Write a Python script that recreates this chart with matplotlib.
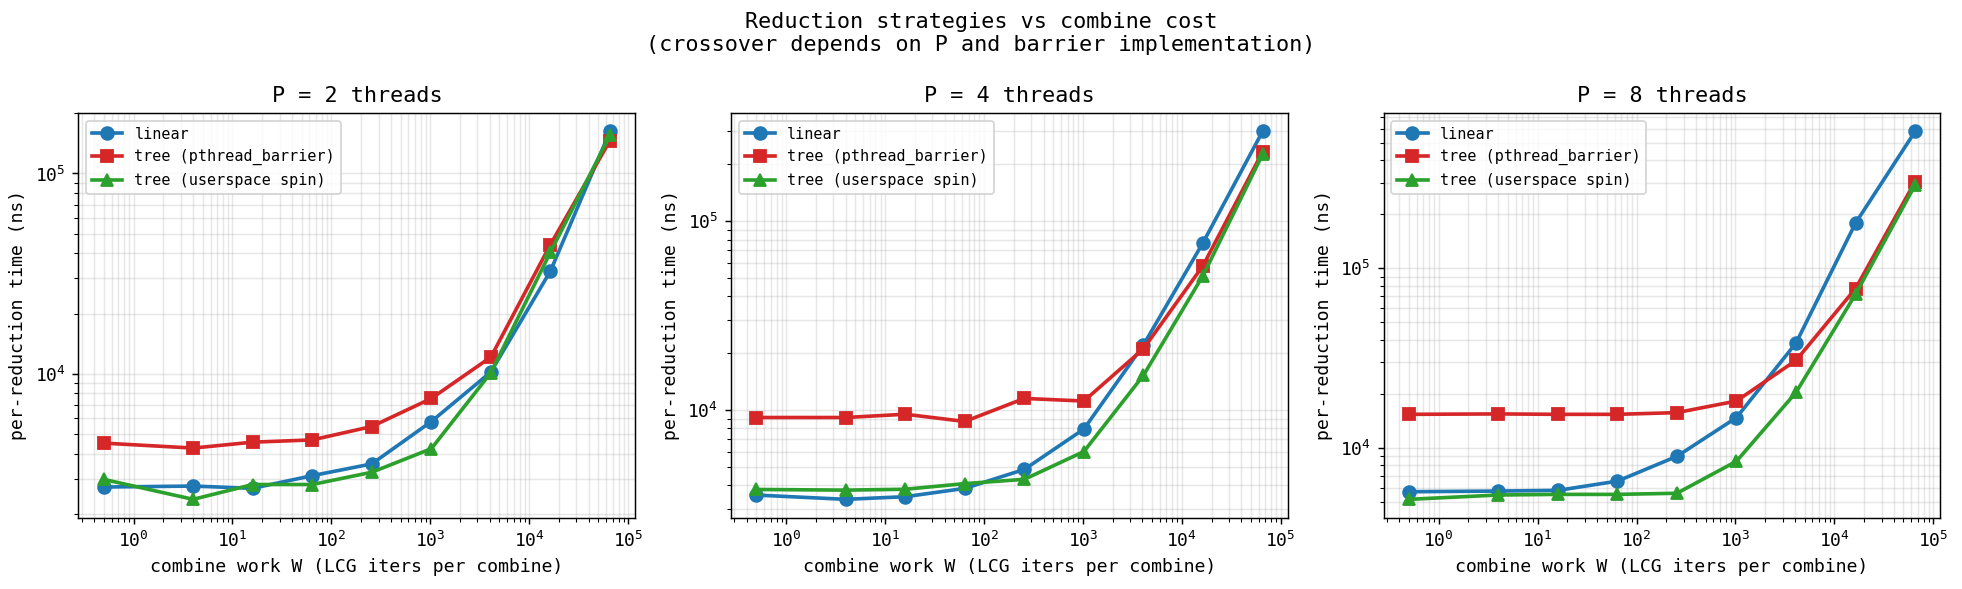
import matplotlib
matplotlib.use("Agg")
import matplotlib.pyplot as plt

plt.rcParams['font.family'] = ['DejaVu Sans Mono']

W = [0.5, 4, 16, 64, 256, 1024, 4096, 16384, 65536]
threads = [2, 4, 8]

linear = {
    2: [2730, 2760, 2690, 3110, 3560, 5790, 10230, 32600, 162000],
    4: [3540, 3360, 3470, 3840, 4840, 7920, 22100, 76900, 299000],
    8: [5710, 5760, 5810, 6540, 8990, 14770, 38400, 178700, 578000],
}
tree_pthread = {
    2: [4520, 4270, 4570, 4690, 5470, 7550, 12140, 44200, 146000],
    4: [9120, 9120, 9490, 8690, 11510, 11150, 21100, 58100, 233000],
    8: [15400, 15480, 15400, 15400, 15740, 18260, 30760, 77200, 303800],
}
tree_spin = {
    2: [2980, 2370, 2810, 2810, 3235, 4240, 10150, 40500, 155000],
    4: [3790, 3760, 3800, 4070, 4290, 6020, 15260, 51500, 226000],
    8: [5180, 5475, 5520, 5520, 5600, 8440, 20400, 71800, 291000],
}

DPI = 130.8
fig, axes = plt.subplots(1, 3, figsize=(1962 / DPI, 589 / DPI), dpi=DPI)
for ax, P in zip(axes, threads):
    ax.plot(W, linear[P], marker='o', color='#1f77b4', lw=2, ms=7, label='linear')
    ax.plot(W, tree_pthread[P], marker='s', color='#d62728', lw=2, ms=7, label='tree (pthread_barrier)')
    ax.plot(W, tree_spin[P], marker='^', color='#2ca02c', lw=2, ms=7, label='tree (userspace spin)')
    ax.set_xscale('log')
    ax.set_yscale('log')
    ax.grid(True, which='both', alpha=0.3)
    ax.set_title(f'P = {P} threads')
    ax.set_xlabel('combine work W (LCG iters per combine)')
    ax.set_ylabel('per-reduction time (ns)')
    ax.legend(loc='upper left', fontsize='small')

fig.suptitle('Reduction strategies vs combine cost\n(crossover depends on P and barrier implementation)')
fig.subplots_adjust(left=0.040, right=0.989, top=0.808, bottom=0.121, wspace=0.172)
fig.savefig('out.png', dpi=DPI)
